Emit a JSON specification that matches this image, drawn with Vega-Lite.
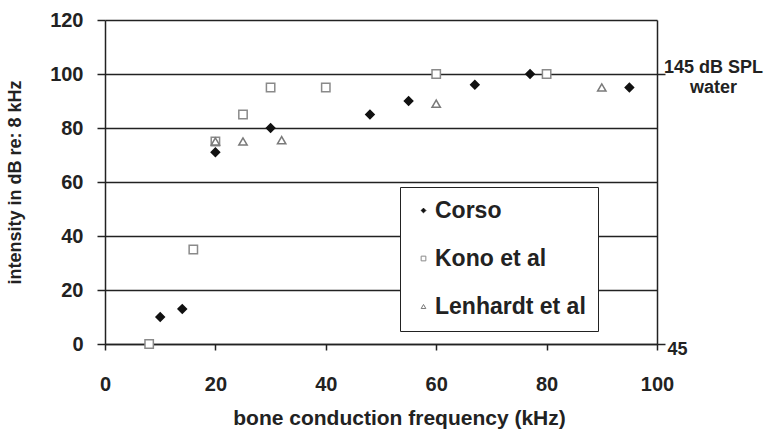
{
  "$schema": "https://vega.github.io/schema/vega-lite/v6.json",
  "width": 552,
  "height": 324,
  "autosize": {"type": "none"},
  "padding": {"left": 105, "top": 20, "right": 120, "bottom": 87},
  "background": "white",
  "config": {
    "view": {"stroke": null},
    "font": "Liberation Sans",
    "axis": {"labelFont": "Liberation Sans", "titleFont": "Liberation Sans", "labelColor": "#222", "titleColor": "#222", "domainColor": "#222", "tickColor": "#222"}
  },
  "data": {
    "values": [
      {"study": "Corso", "freq": 10, "intensity": 10},
      {"study": "Corso", "freq": 14, "intensity": 13},
      {"study": "Corso", "freq": 20, "intensity": 71},
      {"study": "Corso", "freq": 30, "intensity": 80},
      {"study": "Corso", "freq": 48, "intensity": 85},
      {"study": "Corso", "freq": 55, "intensity": 90},
      {"study": "Corso", "freq": 67, "intensity": 96},
      {"study": "Corso", "freq": 77, "intensity": 100},
      {"study": "Corso", "freq": 95, "intensity": 95},
      {"study": "Kono et al", "freq": 8, "intensity": 0},
      {"study": "Kono et al", "freq": 16, "intensity": 35},
      {"study": "Kono et al", "freq": 20, "intensity": 75},
      {"study": "Kono et al", "freq": 25, "intensity": 85},
      {"study": "Kono et al", "freq": 30, "intensity": 95},
      {"study": "Kono et al", "freq": 40, "intensity": 95},
      {"study": "Kono et al", "freq": 60, "intensity": 100},
      {"study": "Kono et al", "freq": 80, "intensity": 100},
      {"study": "Lenhardt et al", "freq": 20, "intensity": 75},
      {"study": "Lenhardt et al", "freq": 25, "intensity": 75},
      {"study": "Lenhardt et al", "freq": 32, "intensity": 75.5},
      {"study": "Lenhardt et al", "freq": 60, "intensity": 89},
      {"study": "Lenhardt et al", "freq": 90, "intensity": 95}
    ]
  },
  "resolve": {"axis": {"y": "independent"}},
  "layer": [
    {
      "mark": {"type": "point", "size": 70, "strokeWidth": 1.5, "opacity": 1},
      "encoding": {
        "x": {
          "field": "freq", "type": "quantitative",
          "scale": {"domain": [0, 100], "nice": false, "zero": true},
          "axis": {
            "title": "bone conduction frequency (kHz)",
            "values": [0, 20, 40, 60, 80, 100],
            "grid": false,
            "tickSize": 6,
            "domainWidth": 1.5,
            "tickWidth": 1.5,
            "labelFontSize": 20,
            "labelFontWeight": "bold",
            "labelPadding": 24,
            "labelFlush": false,
            "titleFontSize": 21,
            "titleFontWeight": "bold",
            "titlePadding": 13,
            "titleX": 294,
            "titleAnchor": "middle"
          }
        },
        "y": {
          "field": "intensity", "type": "quantitative",
          "scale": {"domain": [0, 120], "nice": false},
          "axis": {
            "orient": "left",
            "title": "intensity in dB re: 8 kHz",
            "values": [0, 20, 40, 60, 80, 100, 120],
            "grid": true,
            "gridColor": "#222",
            "gridWidth": 1.5,
            "gridOpacity": 1,
            "tickSize": 8,
            "tickWidth": 1.5,
            "domainWidth": 1.5,
            "labelFontSize": 20,
            "labelFontWeight": "bold",
            "labelPadding": 14,
            "titleFontSize": 18,
            "titleFontWeight": "bold",
            "titlePadding": 25
          }
        },
        "shape": {
          "field": "study", "type": "nominal",
          "scale": {"domain": ["Corso", "Kono et al", "Lenhardt et al"], "range": ["diamond", "square", "triangle-up"]},
          "legend": {
            "title": null,
            "orient": "none",
            "legendX": 295,
            "legendY": 167,
            "direction": "vertical",
            "fillColor": "white",
            "strokeColor": "#222",
            "padding": 12,
            "rowPadding": 24,
            "symbolSize": 22,
            "symbolStrokeWidth": 1,
            "labelFontSize": 23,
            "labelFontWeight": "bold",
            "labelFont": "Liberation Sans",
            "labelColor": "#222",
            "labelOffset": 0,
            "labelLimit": 300
          }
        },
        "stroke": {
          "field": "study", "type": "nominal",
          "scale": {"domain": ["Corso", "Kono et al", "Lenhardt et al"], "range": ["#111111", "#8a8a8a", "#7a7a7a"]}
        },
        "fill": {
          "field": "study", "type": "nominal",
          "scale": {"domain": ["Corso", "Kono et al", "Lenhardt et al"], "range": ["#111111", "#ffffff", "#ffffff"]}
        }
      }
    },
    {
      "mark": {"type": "point", "opacity": 0},
      "encoding": {
        "x": {"field": "freq", "type": "quantitative"},
        "y": {
          "field": "intensity", "type": "quantitative",
          "axis": {
            "orient": "right",
            "title": null,
            "values": [0, 100],
            "grid": false,
            "tickSize": 8,
            "tickWidth": 1.5,
            "domainWidth": 1.5,
            "labelFontSize": 18,
            "labelFontWeight": "bold",
            "labelAlign": {"condition": {"test": "datum.value == 100", "value": "center"}, "value": "left"},
            "labelPadding": {"condition": {"test": "datum.value == 100", "value": 48}, "value": 2},
            "labelOffset": {"condition": {"test": "datum.value == 100", "value": -7}, "value": 5},
            "labelLineHeight": 20,
            "labelExpr": "datum.value == 100 ? ['145 dB SPL', 'water'] : '45'"
          }
        }
      }
    }
  ]
}
